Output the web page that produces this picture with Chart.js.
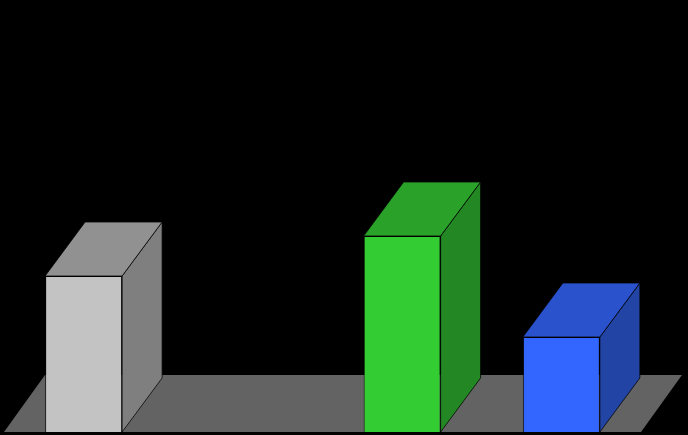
<!DOCTYPE html>
<html>
<head>
<meta charset="utf-8">
<script src="https://cdn.jsdelivr.net/npm/chart.js@4"></script>
<style>
  html, body { margin: 0; padding: 0; background: #000; }
  #wrap { width: 688px; height: 435px; position: relative; }
</style>
</head>
<body>
<div id="wrap"><canvas id="c"></canvas></div>
<script>
// Data
const categories = ['1', '2', '3', '4'];
const values = [15.6, 0, 19.6, 9.5];
const frontColors = ['#c3c3c3', '#c3c3c3', '#33cc33', '#3366ff'];
const topColors = ['#919191', '#919191', '#2aa22a', '#2a52cc'];
const sideColors = ['#7f7f7f', '#7f7f7f', '#238823', '#2244a4'];

const depthX = 40, depthY = 54;
const floorDX = 41, floorDY = 57;

const threeD = {
  id: 'threeD',
  beforeDatasetsDraw(chart) {
    const ctx = chart.ctx;
    const a = chart.chartArea;
    const base = chart.scales.y.getPixelForValue(0);
    ctx.save();
    // floor
    ctx.beginPath();
    ctx.moveTo(a.left, base);
    ctx.lineTo(a.right, base);
    ctx.lineTo(a.right + floorDX, base - floorDY);
    ctx.lineTo(a.left + floorDX, base - floorDY);
    ctx.closePath();
    ctx.fillStyle = '#636363';
    ctx.fill();
    // bar tops & sides
    const meta = chart.getDatasetMeta(0);
    meta.data.forEach((bar, i) => {
      if (!values[i]) return;
      const p = bar.getProps(['x', 'y', 'base', 'width'], true);
      const l = p.x - p.width / 2, r = p.x + p.width / 2, t = p.y, b = p.base;
      ctx.lineWidth = 1;
      ctx.strokeStyle = 'rgba(0,0,0,0.75)';
      // side
      ctx.beginPath();
      ctx.moveTo(r, t);
      ctx.lineTo(r + depthX, t - depthY);
      ctx.lineTo(r + depthX, b - depthY);
      ctx.lineTo(r, b);
      ctx.closePath();
      ctx.fillStyle = sideColors[i];
      ctx.fill();
      ctx.stroke();
      // top
      ctx.beginPath();
      ctx.moveTo(l, t);
      ctx.lineTo(r, t);
      ctx.lineTo(r + depthX, t - depthY);
      ctx.lineTo(l + depthX, t - depthY);
      ctx.closePath();
      ctx.fillStyle = topColors[i];
      ctx.fill();
      ctx.stroke();
    });
    ctx.restore();
  }
};

new Chart(document.getElementById('c'), {
  type: 'bar',
  data: {
    labels: categories,
    datasets: [{
      data: values,
      backgroundColor: frontColors,
      borderColor: 'rgba(0,0,0,0.8)',
      borderWidth: 1,
      categoryPercentage: 1,
      barPercentage: 0.4835
    }]
  },
  options: {
    responsive: true,
    maintainAspectRatio: false,
    animation: false,
    layout: { padding: { left: 4, right: 47, top: 0, bottom: 3 } },
    plugins: { legend: { display: false }, tooltip: { enabled: false } },
    scales: {
      x: { display: false },
      y: { display: false, min: 0, max: 43.2 }
    }
  },
  plugins: [threeD]
});
</script>
</body>
</html>
